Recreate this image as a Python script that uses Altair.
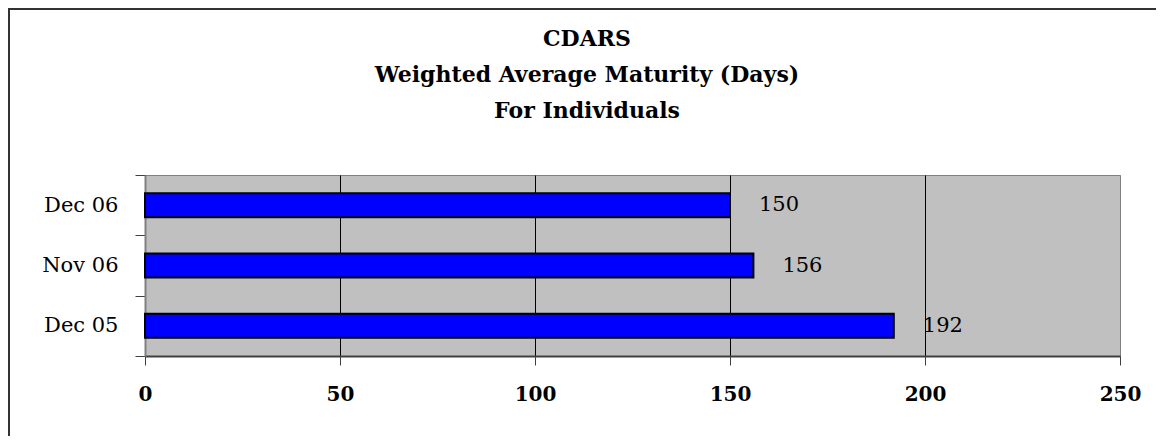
import altair as alt
import pandas as pd

categories = ["Dec 06", "Nov 06", "Dec 05"]
values = [150, 156, 192]
x_ticks = [0, 50, 100, 150, 200, 250]
title_lines = ["CDARS", "Weighted Average Maturity (Days)", "For Individuals"]

df = pd.DataFrame({"period": categories, "days": values})

W, H = 975, 181
PAD_L, PAD_T = 137, 167

y_enc = alt.Y(
    "period:N", sort=categories,
    scale=alt.Scale(paddingInner=0, paddingOuter=0),
    axis=alt.Axis(title=None, tickBand="extent", tickSize=10, labelPadding=17,
                  labelFont="DejaVu Serif", labelFontSize=21, labelColor="black",
                  domainColor="#808080", domainWidth=2, tickColor="#404040",
                  grid=False),
)
x_enc = alt.X(
    "days:Q",
    scale=alt.Scale(domain=[0, 250], nice=False),
    axis=alt.Axis(values=x_ticks, title=None, tickSize=9, labelPadding=19, labelFlush=False,
                  labelFont="DejaVu Serif", labelFontWeight="bold", labelFontSize=20,
                  labelColor="black", grid=True,
                  gridColor=alt.condition("datum.value == 250", alt.value("#808080"), alt.value("black")),
                  gridWidth=1, domainColor="#404040", domainWidth=2, tickColor="#404040"),
)

bars = alt.Chart(df).mark_bar(color="#0000FF", stroke="black", strokeWidth=2, size=24).encode(
    x=x_enc, y=y_enc
)
labels = alt.Chart(df).mark_text(
    align="left", baseline="middle", dx=29, font="DejaVu Serif", fontSize=21, color="black"
).encode(x="days:Q", y=alt.Y("period:N", sort=categories), text="days:Q")

frame_df = pd.DataFrame({"k": [0]})
title_text = alt.Chart(frame_df).mark_text(
    text=title_lines, font="DejaVu Serif", fontSize=22, fontWeight="bold", lineHeight=36,
    align="center", baseline="alphabetic", color="black"
).encode(x=alt.value(587 - 145), y=alt.value(46 - 175))

left_border = alt.Chart(frame_df).mark_rule(color="#333333", strokeWidth=2).encode(
    x=alt.value(-PAD_L + 1), y=alt.value(-PAD_T), y2=alt.value(H + 100)
)
top_border = alt.Chart(frame_df).mark_rule(color="#333333", strokeWidth=2).encode(
    x=alt.value(-PAD_L), x2=alt.value(W + 60), y=alt.value(-PAD_T + 1)
)

chart = alt.layer(bars, labels, title_text, left_border, top_border).properties(
    width=W, height=H,
    padding={"left": PAD_L, "top": PAD_T, "right": 36, "bottom": 80},
    autosize=alt.AutoSizeParams(type="none"),
).configure(background="white").configure_view(fill="#C0C0C0", stroke="#808080", strokeWidth=1)

chart.save("out.html", embed_options={"renderer": "svg", "actions": False})
